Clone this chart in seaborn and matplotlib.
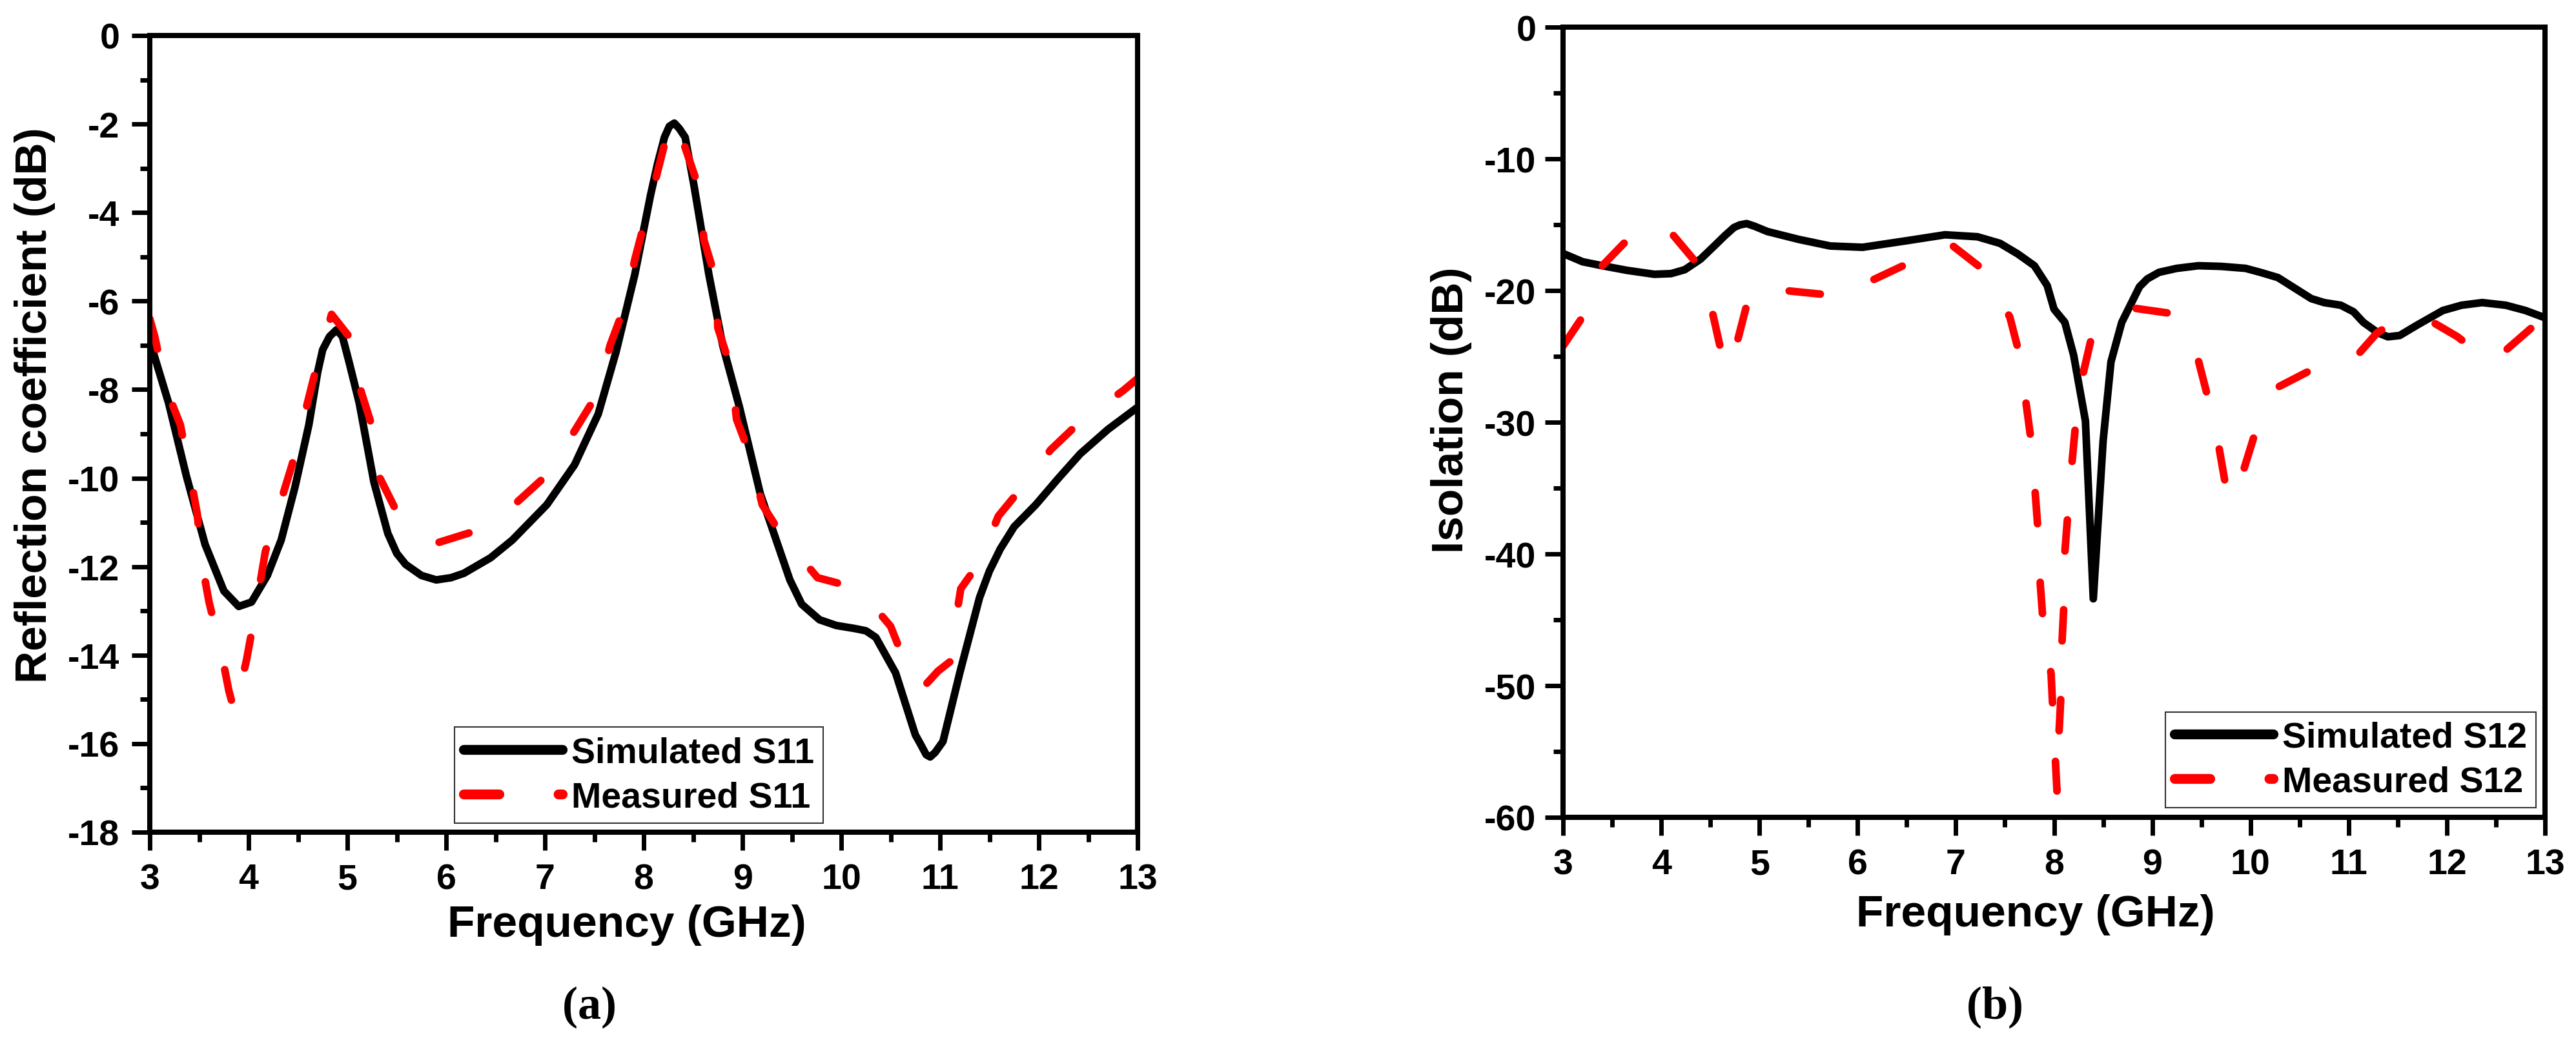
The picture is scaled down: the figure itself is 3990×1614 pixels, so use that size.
import numpy as np
import pandas as pd
import matplotlib
matplotlib.use("Agg")
import matplotlib.pyplot as plt
import seaborn as sns
from matplotlib.ticker import MultipleLocator

# (a) reflection coefficient
s11_sim_freq = [3.00, 3.19, 3.37, 3.56, 3.75, 3.90, 4.03, 4.19, 4.33, 4.47, 4.61, 4.70,
                4.75, 4.82, 4.89, 4.95, 5.02, 5.12, 5.27, 5.41, 5.50, 5.59, 5.75, 5.90,
                6.05, 6.18, 6.45, 6.67, 7.02, 7.30, 7.54, 7.72, 7.91, 8.07, 8.14, 8.21,
                8.26, 8.31, 8.36, 8.42, 8.51, 8.66, 8.80, 8.97, 9.18, 9.48, 9.60, 9.78,
                9.95, 10.14, 10.25, 10.35, 10.55, 10.75, 10.80, 10.86, 10.90, 10.95, 11.03,
                11.20, 11.40, 11.50, 11.61, 11.75, 11.97, 12.20, 12.42, 12.70, 13.00]
s11_sim_db = [-6.9, -8.3, -9.95, -11.5, -12.55, -12.9, -12.8, -12.2, -11.4, -10.2, -8.8, -7.6,
              -7.1, -6.8, -6.65, -6.8, -7.4, -8.3, -10.1, -11.25, -11.7, -11.95, -12.2, -12.3,
              -12.25, -12.15, -11.8, -11.4, -10.6, -9.7, -8.55, -7.15, -5.4, -3.6, -2.9, -2.3,
              -2.05, -1.98, -2.1, -2.3, -3.4, -5.4, -7.0, -8.4, -10.35, -12.3, -12.85, -13.2,
              -13.33, -13.4, -13.45, -13.6, -14.4, -15.8, -16.0, -16.25, -16.3, -16.2, -15.95,
              -14.4, -12.7, -12.1, -11.6, -11.1, -10.6, -10.0, -9.45, -8.9, -8.4]

s11_meas_freq = [3.00, 3.05, 3.16, 3.31, 3.41, 3.48, 3.53, 3.60, 3.73, 3.80, 3.86, 3.98,
                 4.05, 4.17, 4.44, 4.66, 4.84, 5.07, 5.14, 5.27, 5.33, 5.52, 5.93, 6.36,
                 6.69, 7.01, 7.31, 7.53, 7.66, 7.82, 7.91, 8.07, 8.24, 8.32, 8.43, 8.56,
                 8.61, 8.73, 8.75, 8.88, 8.94, 9.08, 9.20, 9.40, 9.76, 10.18, 10.50, 10.66,
                 10.82, 10.98, 11.10, 11.16, 11.21, 11.40, 11.59, 11.84, 12.12, 12.44,
                 12.85, 13.00]
s11_meas_db = [-6.4, -6.8, -7.95, -8.8, -9.95, -10.8, -11.95, -12.8, -14.0, -14.8, -15.3, -14.1,
               -13.25, -11.66, -9.7, -7.73, -6.3, -6.95, -8.05, -8.97, -10.0, -10.85, -11.45, -11.15,
               -10.6, -9.95, -8.9, -8.1, -7.0, -6.04, -5.06, -3.7, -2.2, -1.9, -2.6, -3.45,
               -4.62, -5.5, -6.6, -7.5, -8.67, -9.5, -10.6, -11.3, -12.25, -12.5, -13.35, -14.25,
               -14.75, -14.36, -14.15, -13.2, -12.5, -11.9, -10.86, -10.18, -9.36, -8.68,
               -8.03, -7.75]

# (b) isolation
s12_sim_freq = [3.01, 3.20, 3.40, 3.65, 3.93, 4.10, 4.24, 4.40, 4.54, 4.65, 4.74, 4.80,
                4.87, 4.95, 5.08, 5.40, 5.72, 6.05, 6.50, 6.89, 7.22, 7.45, 7.63, 7.80,
                7.93, 8.00, 8.11, 8.20, 8.32, 8.40, 8.50, 8.58, 8.69, 8.87, 8.95, 9.07,
                9.25, 9.47, 9.70, 9.95, 10.10, 10.28, 10.45, 10.62, 10.75, 10.92, 11.05,
                11.15, 11.30, 11.40, 11.52, 11.70, 11.96, 12.15, 12.36, 12.60, 12.80, 12.98]
s12_sim_db = [-17.2, -17.8, -18.1, -18.45, -18.75, -18.7, -18.4, -17.6, -16.6, -15.8, -15.2, -15.0,
              -14.9, -15.1, -15.5, -16.1, -16.6, -16.7, -16.2, -15.75, -15.9, -16.4, -17.2, -18.1,
              -19.6, -21.4, -22.4, -24.9, -29.9, -43.4, -31.4, -25.4, -22.4, -19.7, -19.1, -18.6,
              -18.3, -18.1, -18.15, -18.3, -18.6, -19.0, -19.8, -20.6, -20.9, -21.1, -21.6,
              -22.4, -23.2, -23.5, -23.4, -22.6, -21.5, -21.1, -20.9, -21.1, -21.5, -22.0]

s12_meas_freq = [3.00, 3.18, 3.40, 3.62, 3.85, 4.09, 4.36, 4.52, 4.61, 4.68, 4.78, 4.88,
                 4.97, 5.28, 5.68, 5.85, 6.15, 6.52, 6.88, 6.97, 7.28, 7.55, 7.65, 7.72,
                 7.77, 7.81, 7.84, 7.86, 7.89, 7.97, 7.99, 8.03, 8.05, 8.07, 8.08, 8.10,
                 8.11, 8.14, 8.18, 8.22, 8.29, 8.38, 8.79, 9.17, 9.47, 9.57, 9.68, 9.75,
                 9.83, 9.94, 10.06, 10.26, 10.65, 11.03, 11.29, 11.55, 11.79, 12.11, 12.45,
                 12.82, 13.00]
s12_meas_db = [-24.2, -22.2, -18.1, -16.4, -15.0, -15.5, -17.9, -21.6, -24.6, -26.0, -23.7, -20.8,
               -19.6, -20.0, -20.3, -20.5, -19.2, -17.9, -16.3, -16.6, -18.4, -22.0, -24.9, -28.8,
               -31.6, -35.5, -38.5, -42.3, -45.3, -49.1, -52.2, -58.0, -53.7, -50.8, -46.9, -43.9,
               -39.9, -37.0, -33.3, -30.1, -26.5, -23.6, -21.3, -21.7, -25.3, -28.2, -31.9, -34.9,
               -36.0, -33.4, -30.5, -27.4, -25.9, -25.4, -23.2, -22.0, -22.1, -23.5, -25.5,
               -23.1, -21.9]

sns.set_style("ticks")
plt.rcParams["font.family"] = ["Liberation Sans", "DejaVu Sans"]
plt.rcParams["font.weight"] = "bold"
plt.rcParams["axes.unicode_minus"] = False
plt.rcParams["axes.edgecolor"] = "black"
plt.rcParams["xtick.color"] = "black"
plt.rcParams["ytick.color"] = "black"
plt.rcParams["text.color"] = "black"
plt.rcParams["axes.labelcolor"] = "black"
plt.rcParams["mathtext.fontset"] = "custom"
plt.rcParams["mathtext.rm"] = "Liberation Serif"
plt.rcParams["mathtext.bf"] = "Liberation Serif:bold"

fig = plt.figure(figsize=(39.9, 16.15), dpi=100)
ax1 = fig.add_axes([0.05815, 0.20124, 0.38346, 0.76409])
ax2 = fig.add_axes([0.60677, 0.21548, 0.38120, 0.75759])

LW = 8.5
DASH = (0, (4.1, 7.7))


def draw_panel(ax, sim_f, sim_db, meas_f, meas_db, sim_label, meas_label):
    sim = pd.DataFrame({"Frequency": sim_f, "dB": sim_db})
    meas = pd.DataFrame({"Frequency": meas_f, "dB": meas_db})
    sns.lineplot(data=sim, x="Frequency", y="dB", ax=ax, color="black",
                 linewidth=LW, sort=False, estimator=None, label=sim_label)
    sns.lineplot(data=meas, x="Frequency", y="dB", ax=ax, color="#ff0000",
                 linewidth=LW, linestyle=DASH, dash_capstyle="round",
                 sort=False, estimator=None, label=meas_label)

    for sp in ax.spines.values():
        sp.set_linewidth(5.8)
        sp.set_color("black")
    ax.tick_params(which="major", direction="out", length=20, width=5,
                   labelsize=40, top=False, right=False)
    ax.tick_params(which="minor", direction="out", length=11, width=5,
                   top=False, right=False)
    ax.tick_params(axis="x", which="major", pad=14)
    ax.set_xlim(3, 13)
    ax.set_xticks(range(3, 14))
    ax.xaxis.set_minor_locator(MultipleLocator(0.5))
    ax.set_xlabel("Frequency (GHz)", fontsize=50, fontweight="bold")


draw_panel(ax1, s11_sim_freq, s11_sim_db, s11_meas_freq, s11_meas_db,
           "Simulated S11", "Measured S11")
draw_panel(ax2, s12_sim_freq, s12_sim_db, s12_meas_freq, s12_meas_db,
           "Simulated S12", "Measured S12")

# left panel axes
ax1.set_ylim(-18, 0)
ax1.set_yticks(np.arange(-18, 1, 2))
ax1.yaxis.set_minor_locator(MultipleLocator(1))
ax1.tick_params(axis="y", which="major", pad=13.5)
ax1.set_ylabel("Reflection coefficient (dB)", fontsize=50, fontweight="bold")
ax1.yaxis.set_label_coords(-0.0954, 0.5365)
ax1.xaxis.set_label_coords(0.483, -0.090)

# right panel axes
ax2.set_ylim(-60, 0)
ax2.set_yticks(np.arange(-60, 1, 10))
ax2.yaxis.set_minor_locator(MultipleLocator(5))
ax2.tick_params(axis="y", which="major", pad=10)
ax2.set_ylabel("Isolation (dB)", fontsize=50, fontweight="bold")
ax2.yaxis.set_label_coords(-0.0927, 0.516)
ax2.xaxis.set_label_coords(0.481, -0.0965)

for ax, anchor in [(ax1, (0.3085, 0.0114)), (ax2, (0.6134, 0.0123))]:
    leg = ax.legend(loc="lower left", bbox_to_anchor=anchor, borderaxespad=0,
                    fontsize=40, handlelength=2.75, handletextpad=0.25,
                    borderpad=0.25, labelspacing=0.3, frameon=True,
                    fancybox=False, edgecolor="#333333", framealpha=1)
    leg.get_frame().set_linewidth(1.5)
    # thicker sample lines in the legend, as in the original
    sim_line, meas_line = leg.get_lines()
    sim_line.set_linewidth(11)
    meas_line.set_linewidth(11)
    meas_line.set_linestyle((0, (3.6, 6.0)))
    meas_line.set_dash_capstyle("round")
    sim_line.set_solid_capstyle("round")

fig.text(912 / 3990, 1 - 1560 / 1615, r"$\mathrm{(}\mathbf{a}\mathrm{)}$",
         ha="center", va="center", fontsize=52)
fig.text(3089 / 3990, 1 - 1560 / 1615, r"$\mathrm{(}\mathbf{b}\mathrm{)}$",
         ha="center", va="center", fontsize=52)

fig.savefig("out.png", dpi=100)
plt.close(fig)
